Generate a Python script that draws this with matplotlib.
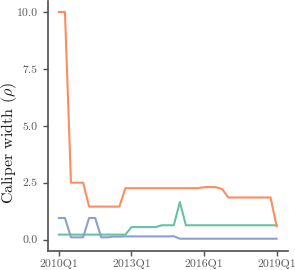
import matplotlib
matplotlib.use("Agg")
import matplotlib.pyplot as plt
import numpy as np

plt.rcParams['font.family'] = 'serif'
plt.rcParams['font.serif'] = ['cmr10', 'DejaVu Serif']
plt.rcParams['mathtext.fontset'] = 'cm'
plt.rcParams['axes.formatter.use_mathtext'] = True

quarters = [f"{y}Q{q}" for y in range(2010, 2020) for q in range(1, 5)][:37]
tick_labels = ["2010Q1", "2013Q1", "2016Q1", "2019Q1"]

orange = [10.0, 10.0, 2.5, 2.5, 2.5, 1.45, 1.45, 1.45, 1.45, 1.45, 1.45, 2.26,
          2.26, 2.26, 2.26, 2.26, 2.26, 2.26, 2.26, 2.26, 2.26, 2.26, 2.26, 2.26,
          2.30, 2.31, 2.30, 2.22, 1.85, 1.85, 1.85, 1.85, 1.85, 1.85, 1.85, 1.85, 0.58]
green = [0.22, 0.22, 0.22, 0.22, 0.22, 0.22, 0.22, 0.22, 0.22, 0.22, 0.22, 0.22,
         0.55, 0.55, 0.55, 0.55, 0.55, 0.63, 0.63, 0.63, 1.65, 0.63, 0.63, 0.63,
         0.63, 0.63, 0.63, 0.63, 0.63, 0.63, 0.63, 0.63, 0.63, 0.63, 0.63, 0.63, 0.63]
blue = [0.95, 0.95, 0.10, 0.10, 0.10, 0.95, 0.95, 0.10, 0.10, 0.13, 0.13, 0.14,
        0.14, 0.14, 0.14, 0.14, 0.14, 0.14, 0.14, 0.15, 0.04, 0.04, 0.04, 0.04,
        0.04, 0.04, 0.04, 0.04, 0.04, 0.04, 0.04, 0.04, 0.04, 0.04, 0.04, 0.04, 0.04]

fig = plt.figure(figsize=(2.95, 2.70), dpi=100)
ax = fig.add_axes([48/295, 1 - 251/270, (287.5 - 48)/295, 251/270 - 0.002])

x = np.arange(len(quarters))
ax.plot(x, green, color='#66C2A5', lw=1.5, solid_joinstyle='round')
ax.plot(x, blue, color='#8DA0CB', lw=1.5, solid_joinstyle='round')
ax.plot(x, orange, color='#FC8D62', lw=1.5, solid_joinstyle='round')

ax.set_xlim(-1.8, 36 + 1.8)
ax.set_ylim(-0.5, 10.5)
ax.set_xticks([quarters.index(t) for t in tick_labels])
ax.set_xticklabels(tick_labels)
ax.set_yticks([0, 2.5, 5, 7.5, 10])
ax.set_yticklabels(["0.0", "2.5", "5.0", "7.5", "10.0"])
ax.set_ylabel(r"Caliper width ($\rho$)", fontsize=11.5, color='#1a1a1a')
ax.yaxis.set_label_coords((19.5 - 48) / 239.5, 0.432)

for s in ['top', 'right']:
    ax.spines[s].set_visible(False)
for s in ['left', 'bottom']:
    ax.spines[s].set_color('#4d4d4d')
    ax.spines[s].set_linewidth(1.2)
ax.tick_params(axis='both', colors='#4d4d4d', labelcolor='#5a5a5a', labelsize=8.5,
               length=3.5, width=1.0)
ax.tick_params(axis='y', pad=4)
ax.tick_params(axis='x', pad=2.5)

fig.savefig("out.png", dpi=100)
